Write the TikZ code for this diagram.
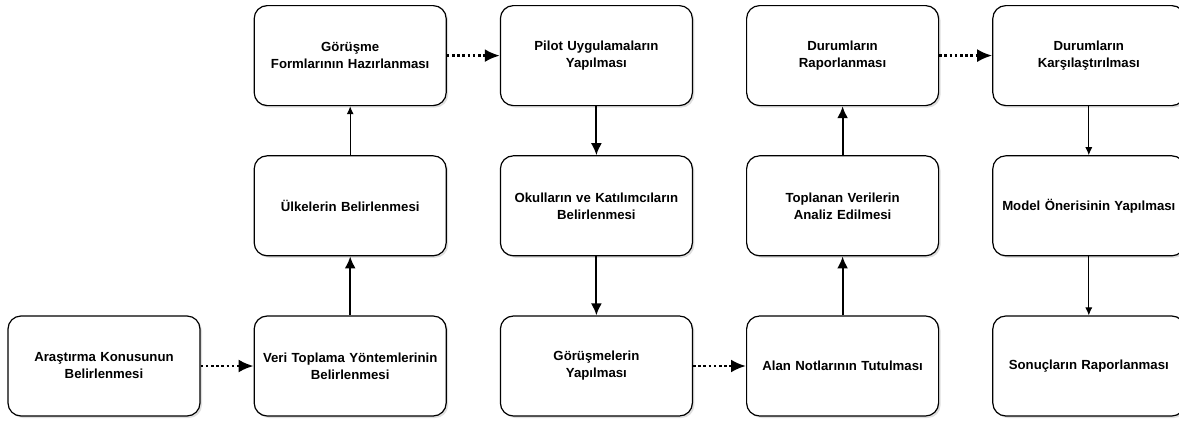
\documentclass[tikz,border=0pt]{standalone}
\usepackage{fontspec}
\setmainfont{Liberation Sans}
\usepackage{tikz}
\usetikzlibrary{arrows.meta}
\usetikzlibrary{positioning}
\usetikzlibrary{shadows}
\tikzstyle{block} = [draw, fill=white, rectangle, rounded corners=13pt,
    line width=1.2pt, minimum height=100pt, minimum width=192pt,
    inner xsep=2pt, text width=186pt, align=center,
    font=\bfseries\fontsize{13.2}{17}\selectfont,
    drop shadow={opacity=0.25, shadow xshift=2pt, shadow yshift=-2pt}]
\tikzstyle{dotline} = [line width=2.6pt, dash pattern=on 2.6pt off 2.6pt,
    -{Latex[length=15pt,width=13pt]}]
\tikzstyle{thickline} = [line width=2pt, -{Latex[length=12pt,width=11pt]}]
\tikzstyle{thinline} = [line width=1pt, -{Latex[length=8pt,width=7pt]}]
\begin{document}
\begin{tikzpicture}[auto]
    \useasboundingbox (0pt,0pt) rectangle (1179pt,-421pt);
    \node [block] (arastirma) at (104pt,-366pt) {Araştırma Konusunun\\Belirlenmesi};
    \node [block, right=53pt of arastirma] (veri) {Veri Toplama Yöntemlerinin\\Belirlenmesi};
    \node [block, above=59pt of veri] (ulke) {Ülkelerin Belirlenmesi};
    \node [block, above=49pt of ulke] (form) {Görüşme\\Formlarının Hazırlanması};
    \node [block, right=53pt of form] (pilot) {Pilot Uygulamaların\\Yapılması};
    \node [block, below=49pt of pilot] (okul) {Okulların ve Katılımcıların\\Belirlenmesi};
    \node [block, below=59pt of okul] (gorusme) {Görüşmelerin\\Yapılması};
    \node [block, right=53pt of gorusme] (alan) {Alan Notlarının Tutulması};
    \node [block, above=59pt of alan] (analiz) {Toplanan Verilerin\\Analiz Edilmesi};
    \node [block, above=49pt of analiz] (rapor) {Durumların\\Raporlanması};
    \node [block, right=53pt of rapor] (karsi) {Durumların\\Karşılaştırılması};
    \node [block, below=49pt of karsi] (model) {Model Önerisinin Yapılması};
    \node [block, below=59pt of model] (sonuc) {Sonuçların Raporlanması};

    \draw [dotline] (arastirma) -- (veri);
    \draw [thickline] (veri) -- (ulke);
    \draw [thinline] (ulke) -- (form);
    \draw [dotline] (form) -- (pilot);
    \draw [thickline] (pilot) -- (okul);
    \draw [thickline] (okul) -- (gorusme);
    \draw [dotline] (gorusme) -- (alan);
    \draw [thickline] (alan) -- (analiz);
    \draw [thickline] (analiz) -- (rapor);
    \draw [dotline] (rapor) -- (karsi);
    \draw [thinline] (karsi) -- (model);
    \draw [thinline] (model) -- (sonuc);
\end{tikzpicture}
\end{document}
